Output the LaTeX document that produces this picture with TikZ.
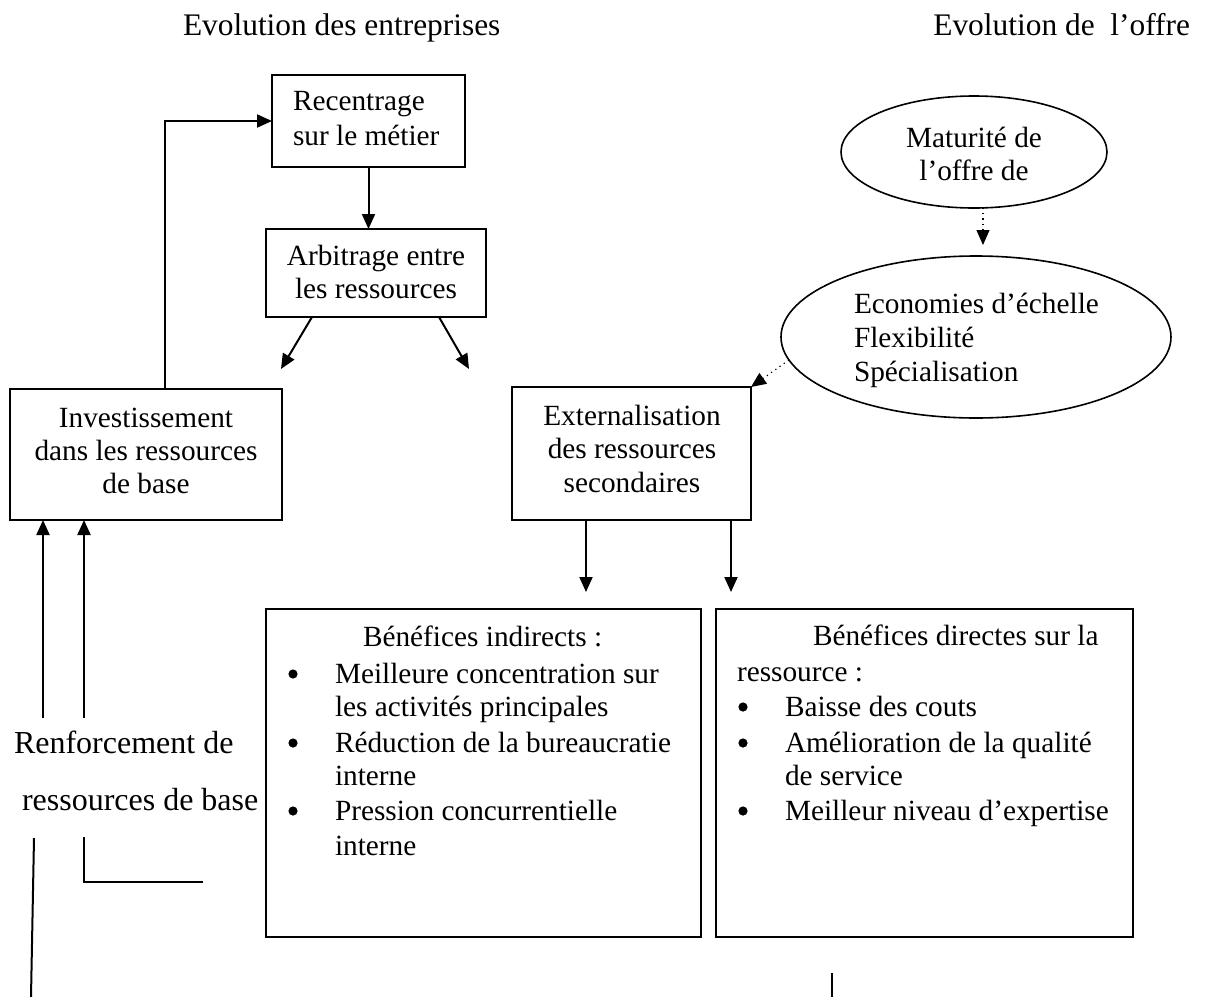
\documentclass[tikz,border=0pt]{standalone}
\usepackage{fontspec}
\setmainfont{Liberation Serif}
\usetikzlibrary{arrows.meta,shapes.geometric}

\tikzset{
  frame/.style={draw, line width=1pt, rectangle, inner sep=0pt, outer sep=0pt},
  oval/.style={draw, line width=0.8pt, ellipse, inner sep=0pt, outer sep=0pt},
  txt/.style={inner sep=0pt, outer sep=0pt, font=\fontsize{14.65pt}{17.4pt}\selectfont},
  head/.style={inner sep=0pt, outer sep=0pt, font=\fontsize{15.7pt}{18pt}\selectfont},
  side/.style={inner sep=0pt, outer sep=0pt, font=\fontsize{16pt}{19pt}\selectfont},
  dot/.style={circle, fill, inner sep=0pt, outer sep=0pt, minimum size=4.6pt},
  arr/.style={line width=1pt, -{Triangle[length=7.5pt,width=6.5pt]}},
  dotarr/.style={line width=0.6pt, dotted, -{Triangle[length=7.5pt,width=6.5pt]}},
  plain/.style={line width=1pt},
}

\begin{document}
\begin{tikzpicture}[x=0.5pt,y=-0.5pt]
\useasboundingbox (0,0) rectangle (1207,997);

% column headings
\node[head, anchor=base west] (t1) at (183,35) {Evolution des entreprises};
\node[head, anchor=base east] (t2) at (1190,35) {Evolution de\ \ l’offre};

% boxes on the company side
\node[frame, minimum width=96.5pt, minimum height=46pt] (rec) at (368.5,121) {};
\node[txt, anchor=base west] (rec1) at (293,110) {Recentrage};
\node[txt, anchor=base west] (rec2) at (293,145) {sur le métier};

\node[frame, minimum width=110pt, minimum height=44pt] (arb) at (376,273) {};
\node[txt, anchor=base] (arb1) at (376,265) {Arbitrage entre};
\node[txt, anchor=base] (arb2) at (376,298) {les ressources};

\node[frame, minimum width=136pt, minimum height=65.5pt] (inv) at (146,454.5) {};
\node[txt, anchor=base] (inv1) at (146,427) {Investissement};
\node[txt, anchor=base] (inv2) at (146,460) {dans les ressources};
\node[txt, anchor=base] (inv3) at (146,493) {de base};

\node[frame, minimum width=119.5pt, minimum height=66.5pt] (ext) at (631.5,453.5) {};
\node[txt, anchor=base] (ext1) at (632,425) {Externalisation};
\node[txt, anchor=base] (ext2) at (632,458) {des ressources};
\node[txt, anchor=base] (ext3) at (632,492) {secondaires};

% ellipses on the supply side
\node[oval, minimum width=133pt, minimum height=56pt] (e1) at (974,152) {};
\node[txt, anchor=base] (e1a) at (974,147) {Maturité de};
\node[txt, anchor=base] (e1b) at (974,180) {l’offre de};

\node[oval, minimum width=195pt, minimum height=81pt] (e2) at (976,337) {};
\node[txt, anchor=base west] (e2a) at (854,313) {Economies d’échelle};
\node[txt, anchor=base west] (e2b) at (854,347) {Flexibilité};
\node[txt, anchor=base west] (e2c) at (854,381) {Spécialisation};

% benefit boxes
\node[frame, minimum width=217.5pt, minimum height=164pt] (ind) at (483.5,773) {};
\node[txt, anchor=base west] (ind0) at (363,646) {Bénéfices indirects :};
\node[dot] (indb1) at (293,674) {};
\node[txt, anchor=base west] (ind1) at (335,683) {Meilleure concentration sur};
\node[txt, anchor=base west] (ind2) at (335,716) {les activités principales};
\node[dot] (indb2) at (293,743) {};
\node[txt, anchor=base west] (ind3) at (335,752) {Réduction de la bureaucratie};
\node[txt, anchor=base west] (ind4) at (335,785) {interne};
\node[dot] (indb3) at (293,811) {};
\node[txt, anchor=base west] (ind5) at (335,820) {Pression concurrentielle};
\node[txt, anchor=base west] (ind6) at (335,855) {interne};

\node[frame, minimum width=208.5pt, minimum height=164pt] (dir) at (924.5,773) {};
\node[txt, anchor=base west] (dir0) at (813,645) {Bénéfices directes sur la};
\node[txt, anchor=base west] (dir1) at (737,681) {ressource :};
\node[dot] (dirb1) at (743,707) {};
\node[txt, anchor=base west] (dir2) at (785,716) {Baisse des couts};
\node[dot] (dirb2) at (743,743) {};
\node[txt, anchor=base west] (dir3) at (785,752) {Amélioration de la qualité};
\node[txt, anchor=base west] (dir4) at (785,785) {de service};
\node[dot] (dirb3) at (743,811) {};
\node[txt, anchor=base west] (dir5) at (785,820) {Meilleur niveau d’expertise};

% side label
\node[side, anchor=base west] (ren1) at (14,753) {Renforcement de};
\node[side, anchor=base west] (ren2) at (22,810) {ressources de base};

% connectors
\draw[arr] (rec.south) -- (rec.south |- arb.north);
\draw[arr] ([xshift=9.5pt]inv.north) |- (rec.west);

\coordinate (dl) at (281,369);
\coordinate (dr) at (469,369);
\draw[arr] ([xshift=-32pt]arb.south) -- (dl);
\draw[arr] ([xshift=31.5pt]arb.south) -- (dr);

\coordinate (m1) at (983,245);
\draw[dotarr] ([xshift=4.5pt]e1.south) -- (m1);
\draw[dotarr] (e2.187) -- (ext.north east);

\coordinate (ta) at (586,592);
\coordinate (tb) at (731,592);
\draw[arr] (ext.south -| ta) -- (ta);
\draw[arr] (ext.south -| tb) -- (tb);

\coordinate (ua) at (43,718);
\coordinate (ub) at (84,718);
\draw[arr] (ua) -- (ua |- inv.south);
\draw[arr] (ub) -- (ub |- inv.south);

% loose strokes below the label
\coordinate (la) at (34,838);
\coordinate (lb) at (31,997);
\draw[plain] (la) -- (lb);
\coordinate (lc) at (84,837);
\coordinate (ld) at (203,882);
\draw[plain] (lc) |- (ld);
\coordinate (le) at (832,973);
\coordinate (lf) at (832,997);
\draw[plain] (le) -- (lf);
\end{tikzpicture}
\end{document}
